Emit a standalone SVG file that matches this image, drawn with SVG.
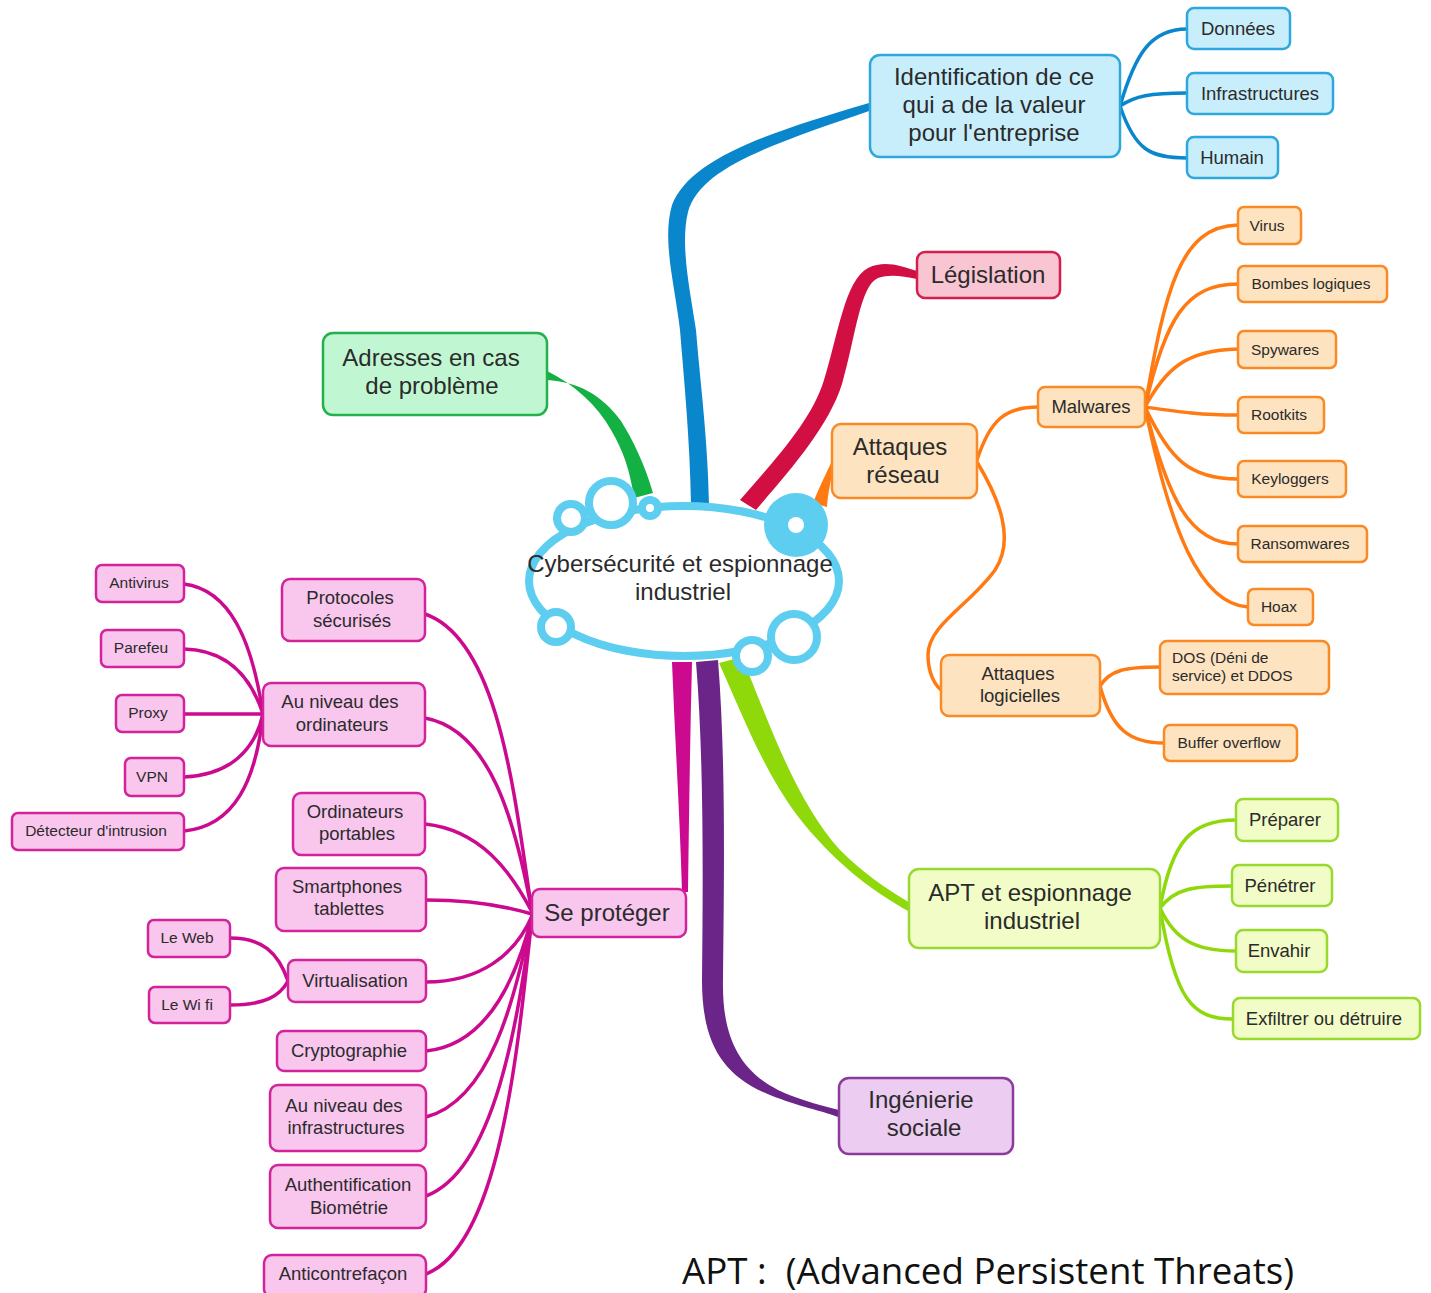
<svg xmlns="http://www.w3.org/2000/svg" width="1431" height="1293" viewBox="0 0 1431 1293">
<style>
.t{font-family:"Liberation Sans",Arial,sans-serif;fill:#2b2b2b;text-anchor:middle}
.l1{font-size:24px}
.l2{font-size:18.5px}
.l3{font-size:15.5px}
rect{stroke-width:2.5}
.bl rect{fill:#c8eefb;stroke:#2ea6de}
.rd rect{fill:#f9c5d2;stroke:#d21f4c}
.gr rect{fill:#c0f7d2;stroke:#22b14c}
.or rect{fill:#fde3bf;stroke:#f98a25}
.yg rect{fill:#f1fcc7;stroke:#97d92c}
.pu rect{fill:#ecccf1;stroke:#8b3b9b}
.pk rect{fill:#f9c6ee;stroke:#d2239b}
.c{fill:none;stroke-width:3.5;stroke-linecap:round}
.cb{stroke:#0a86cc}.co{stroke:#ff7a12}.cy{stroke:#8fd80a}.cp{stroke:#cc0a8f}
.cloud{fill:#fff;stroke:#5dcdf0;stroke-width:8}
</style>
<rect width="1431" height="1293" fill="#fff"/>
<g id="connectors">
  <path fill="#0a86cc" d="M691,505 C690,440 684,380 680,330 C674,280 662,240 672,205 C690,160 760,135 869,103 L872,110 C770,145 700,168 688,212 C680,245 690,290 696,330 C700,380 708,440 709,505 Z"/>
  <path fill="#d20f42" d="M740,500 C775,460 812,420 824,380 C838,335 845,280 868,268 C885,260 900,266 917,271 L917,279 C902,276 890,274 878,278 C860,286 856,335 842,384 C828,428 790,470 756,510 Z"/>
  <path fill="#13b044" d="M547,371 C575,385 597,405 611,430 C623,450 630,470 634,498 L653,493 C645,465 633,440 621,421 C601,394 578,382 547,380 Z"/>
  <path fill="#ff7a12" d="M813,503 C818,490 824,478 831,463 L834,466 C831,480 828,492 827,507 Z"/>
  <path fill="#8fd80a" d="M719,663 C745,720 770,790 818,840 C850,875 880,895 908,911 L910,903 C885,888 862,872 840,850 C795,800 768,720 742,657 Z"/>
  <path fill="#6b2589" d="M696,662 C704,760 703,880 702,980 C702,1040 720,1075 770,1095 C800,1107 820,1110 838,1117 L839,1110 C815,1104 795,1098 778,1090 C735,1068 722,1030 723,980 C724,880 726,760 718,660 Z"/>
  <path fill="#cc0a8f" d="M672,662 C675,740 680,820 682,892 L688,892 C689,820 690,740 692,662 Z"/>
  <path class="c cb" d="M1120,106 C1135,55 1150,29 1187,29"/>
  <path class="c cb" d="M1120,106 C1135,96 1150,93 1187,93"/>
  <path class="c cb" d="M1120,106 C1135,150 1150,158 1187,158"/>
  <path class="c co" d="M977,460 C990,420 1005,407 1038,407"/>
  <path class="c co" d="M977,462 C1000,500 1015,540 995,570 C970,605 928,625 928,655 C928,672 934,684 941,690"/>
  <path class="c co" d="M1145,407 C1165,290 1180,226 1238,225"/>
  <path class="c co" d="M1145,407 C1165,320 1185,284 1238,284"/>
  <path class="c co" d="M1145,407 C1165,370 1185,350 1238,349"/>
  <path class="c co" d="M1145,407 C1180,412 1200,415 1238,415"/>
  <path class="c co" d="M1145,407 C1170,460 1190,479 1238,479"/>
  <path class="c co" d="M1145,407 C1168,500 1190,544 1238,544"/>
  <path class="c co" d="M1145,407 C1170,530 1200,604 1248,607"/>
  <path class="c co" d="M1100,686 C1110,670 1125,667 1160,667"/>
  <path class="c co" d="M1100,686 C1112,730 1130,743 1164,743"/>
  <path class="c cy" d="M1160,908 C1172,840 1192,820 1236,820"/>
  <path class="c cy" d="M1160,908 C1175,888 1195,886 1232,886"/>
  <path class="c cy" d="M1160,908 C1175,940 1195,951 1236,951"/>
  <path class="c cy" d="M1160,908 C1175,1000 1192,1019 1233,1019"/>
  <path class="c cp" d="M425,614 C500,640 515,800 532,912"/>
  <path class="c cp" d="M425,718 C490,730 515,820 532,912"/>
  <path class="c cp" d="M425,824 C480,830 510,870 532,912"/>
  <path class="c cp" d="M426,900 C470,900 505,906 532,914"/>
  <path class="c cp" d="M426,982 C480,982 515,955 532,916"/>
  <path class="c cp" d="M426,1051 C485,1045 515,985 532,916"/>
  <path class="c cp" d="M426,1117 C490,1100 515,1000 532,916"/>
  <path class="c cp" d="M426,1196 C495,1170 518,1020 532,916"/>
  <path class="c cp" d="M426,1274 C500,1245 518,1050 532,916"/>
  <path class="c cp" d="M184,584 C230,590 252,640 263,714"/>
  <path class="c cp" d="M184,649 C230,650 252,680 263,714"/>
  <path class="c cp" d="M184,714 L263,714"/>
  <path class="c cp" d="M184,777 C230,775 255,750 263,714"/>
  <path class="c cp" d="M184,831 C235,826 256,780 263,714"/>
  <path class="c cp" d="M230,938 C262,938 278,952 288,981"/>
  <path class="c cp" d="M230,1005 C265,1005 280,996 288,981"/>
</g>
<g id="center">
  <ellipse class="cloud" cx="684" cy="581" rx="155" ry="75"/>
  <circle class="cloud" cx="611" cy="503" r="22"/>
  <circle class="cloud" cx="571" cy="518" r="14"/>
  <circle class="cloud" cx="650" cy="508" r="8"/>
  <circle cx="796" cy="525" r="32" fill="#5dcdf0"/>
  <circle cx="796" cy="525" r="8" fill="#fff"/>
  <circle class="cloud" cx="556" cy="627" r="15"/>
  <circle class="cloud" cx="794" cy="637" r="23"/>
  <circle class="cloud" cx="752" cy="656" r="16"/>
  <text class="t l1" x="680" y="572">Cybersécurité et espionnage</text>
  <text class="t l1" x="683" y="600">industriel</text>
</g>
<g id="identification" class="bl"><rect x="870" y="55" width="250" height="102" rx="10"/>
  <text class="t l1" x="994" y="85">Identification de ce</text><text class="t l1" x="994" y="113">qui a de la valeur</text><text class="t l1" x="994" y="141">pour l'entreprise</text></g>
<g id="donnees" class="bl"><rect x="1187" y="8" width="103" height="41" rx="7"/><text class="t l2" x="1238" y="35">Données</text></g>
<g id="infrastructures" class="bl"><rect x="1187" y="73" width="146" height="41" rx="7"/><text class="t l2" x="1260" y="100">Infrastructures</text></g>
<g id="humain" class="bl"><rect x="1187" y="137" width="91" height="41" rx="7"/><text class="t l2" x="1232" y="164">Humain</text></g>
<g id="legislation" class="rd"><rect x="917" y="252" width="143" height="46" rx="8"/><text class="t l1" x="988" y="283">Législation</text></g>
<g id="adresses" class="gr"><rect x="323" y="333" width="224" height="82" rx="10"/>
  <text class="t l1" x="431" y="366">Adresses en cas</text><text class="t l1" x="432" y="394">de problème</text></g>
<g id="attaques-reseau" class="or"><rect x="832" y="424" width="145" height="74" rx="9"/>
  <text class="t l1" x="900" y="455">Attaques</text><text class="t l1" x="903" y="483">réseau</text></g>
<g id="malwares" class="or"><rect x="1038" y="387" width="107" height="40" rx="7"/><text class="t l2" x="1091" y="413">Malwares</text></g>
<g id="virus" class="or"><rect x="1238" y="207" width="63" height="37" rx="6"/><text class="t l3" x="1267" y="231">Virus</text></g>
<g id="bombes" class="or"><rect x="1238" y="266" width="149" height="36" rx="6"/><text class="t l3" x="1311" y="289">Bombes logiques</text></g>
<g id="spywares" class="or"><rect x="1238" y="331" width="98" height="37" rx="6"/><text class="t l3" x="1285" y="355">Spywares</text></g>
<g id="rootkits" class="or"><rect x="1238" y="397" width="86" height="36" rx="6"/><text class="t l3" x="1279" y="420">Rootkits</text></g>
<g id="keyloggers" class="or"><rect x="1238" y="461" width="108" height="36" rx="6"/><text class="t l3" x="1290" y="484">Keyloggers</text></g>
<g id="ransomwares" class="or"><rect x="1238" y="526" width="129" height="36" rx="6"/><text class="t l3" x="1300" y="549">Ransomwares</text></g>
<g id="hoax" class="or"><rect x="1248" y="589" width="65" height="36" rx="6"/><text class="t l3" x="1279" y="612">Hoax</text></g>
<g id="attaques-logicielles" class="or"><rect x="941" y="655" width="159" height="61" rx="8"/>
  <text class="t l2" x="1018" y="680">Attaques</text><text class="t l2" x="1020" y="702">logicielles</text></g>
<g id="dos" class="or"><rect x="1160" y="641" width="169" height="53" rx="7"/>
  <text class="t l3" x="1172" y="663" style="text-anchor:start">DOS (Déni de</text><text class="t l3" x="1172" y="681" style="text-anchor:start">service) et DDOS</text></g>
<g id="buffer" class="or"><rect x="1164" y="725" width="133" height="36" rx="6"/><text class="t l3" x="1229" y="748">Buffer overflow</text></g>
<g id="apt" class="yg"><rect x="909" y="869" width="251" height="79" rx="10"/>
  <text class="t l1" x="1030" y="901">APT et espionnage</text><text class="t l1" x="1032" y="929">industriel</text></g>
<g id="preparer" class="yg"><rect x="1236" y="799" width="102" height="42" rx="7"/><text class="t l2" x="1285" y="826">Préparer</text></g>
<g id="penetrer" class="yg"><rect x="1232" y="865" width="100" height="41" rx="7"/><text class="t l2" x="1280" y="892">Pénétrer</text></g>
<g id="envahir" class="yg"><rect x="1236" y="930" width="91" height="42" rx="7"/><text class="t l2" x="1279" y="957">Envahir</text></g>
<g id="exfiltrer" class="yg"><rect x="1233" y="998" width="187" height="41" rx="7"/><text class="t l2" x="1324" y="1025">Exfiltrer ou détruire</text></g>
<g id="ingenierie" class="pu"><rect x="839" y="1078" width="174" height="76" rx="10"/>
  <text class="t l1" x="921" y="1108">Ingénierie</text><text class="t l1" x="924" y="1136">sociale</text></g>
<g id="se-proteger" class="pk"><rect x="532" y="889" width="154" height="48" rx="8"/><text class="t l1" x="607" y="921">Se protéger</text></g>
<g id="protocoles" class="pk"><rect x="282" y="579" width="143" height="62" rx="8"/>
  <text class="t l2" x="350" y="604">Protocoles</text><text class="t l2" x="352" y="627">sécurisés</text></g>
<g id="niveau-ordinateurs" class="pk"><rect x="263" y="683" width="162" height="63" rx="8"/>
  <text class="t l2" x="340" y="708">Au niveau des</text><text class="t l2" x="342" y="731">ordinateurs</text></g>
<g id="portables" class="pk"><rect x="293" y="793" width="132" height="62" rx="8"/>
  <text class="t l2" x="355" y="818">Ordinateurs</text><text class="t l2" x="357" y="840">portables</text></g>
<g id="smartphones" class="pk"><rect x="276" y="868" width="150" height="63" rx="8"/>
  <text class="t l2" x="347" y="893">Smartphones</text><text class="t l2" x="349" y="915">tablettes</text></g>
<g id="virtualisation" class="pk"><rect x="288" y="960" width="138" height="42" rx="7"/><text class="t l2" x="355" y="987">Virtualisation</text></g>
<g id="cryptographie" class="pk"><rect x="277" y="1031" width="149" height="40" rx="7"/><text class="t l2" x="349" y="1057">Cryptographie</text></g>
<g id="niveau-infra" class="pk"><rect x="270" y="1085" width="156" height="66" rx="8"/>
  <text class="t l2" x="344" y="1112">Au niveau des</text><text class="t l2" x="346" y="1134">infrastructures</text></g>
<g id="authentification" class="pk"><rect x="270" y="1165" width="156" height="63" rx="8"/>
  <text class="t l2" x="348" y="1191">Authentification</text><text class="t l2" x="349" y="1214">Biométrie</text></g>
<g id="anticontrefacon" class="pk"><rect x="264" y="1255" width="162" height="42" rx="8"/><text class="t l2" x="343" y="1280">Anticontrefaçon</text></g>
<g id="antivirus" class="pk"><rect x="96" y="565" width="88" height="37" rx="6"/><text class="t l3" x="139" y="588">Antivirus</text></g>
<g id="parefeu" class="pk"><rect x="101" y="630" width="83" height="37" rx="6"/><text class="t l3" x="141" y="653">Parefeu</text></g>
<g id="proxy" class="pk"><rect x="116" y="695" width="68" height="37" rx="6"/><text class="t l3" x="148" y="718">Proxy</text></g>
<g id="vpn" class="pk"><rect x="125" y="758" width="59" height="38" rx="6"/><text class="t l3" x="152" y="782">VPN</text></g>
<g id="detecteur" class="pk"><rect x="12" y="813" width="172" height="37" rx="6"/><text class="t l3" x="96" y="836">Détecteur d'intrusion</text></g>
<g id="le-web" class="pk"><rect x="148" y="920" width="82" height="37" rx="6"/><text class="t l3" x="187" y="943">Le Web</text></g>
<g id="le-wifi" class="pk"><rect x="149" y="987" width="81" height="36" rx="6"/><text class="t l3" x="187" y="1010">Le Wi fi</text></g>
<text x="682" y="1284" font-family="'Open Sans','Noto Sans',sans-serif" font-size="37" fill="#111" textLength="612" lengthAdjust="spacingAndGlyphs" style="white-space:pre">APT :  (Advanced Persistent Threats)</text>
</svg>
